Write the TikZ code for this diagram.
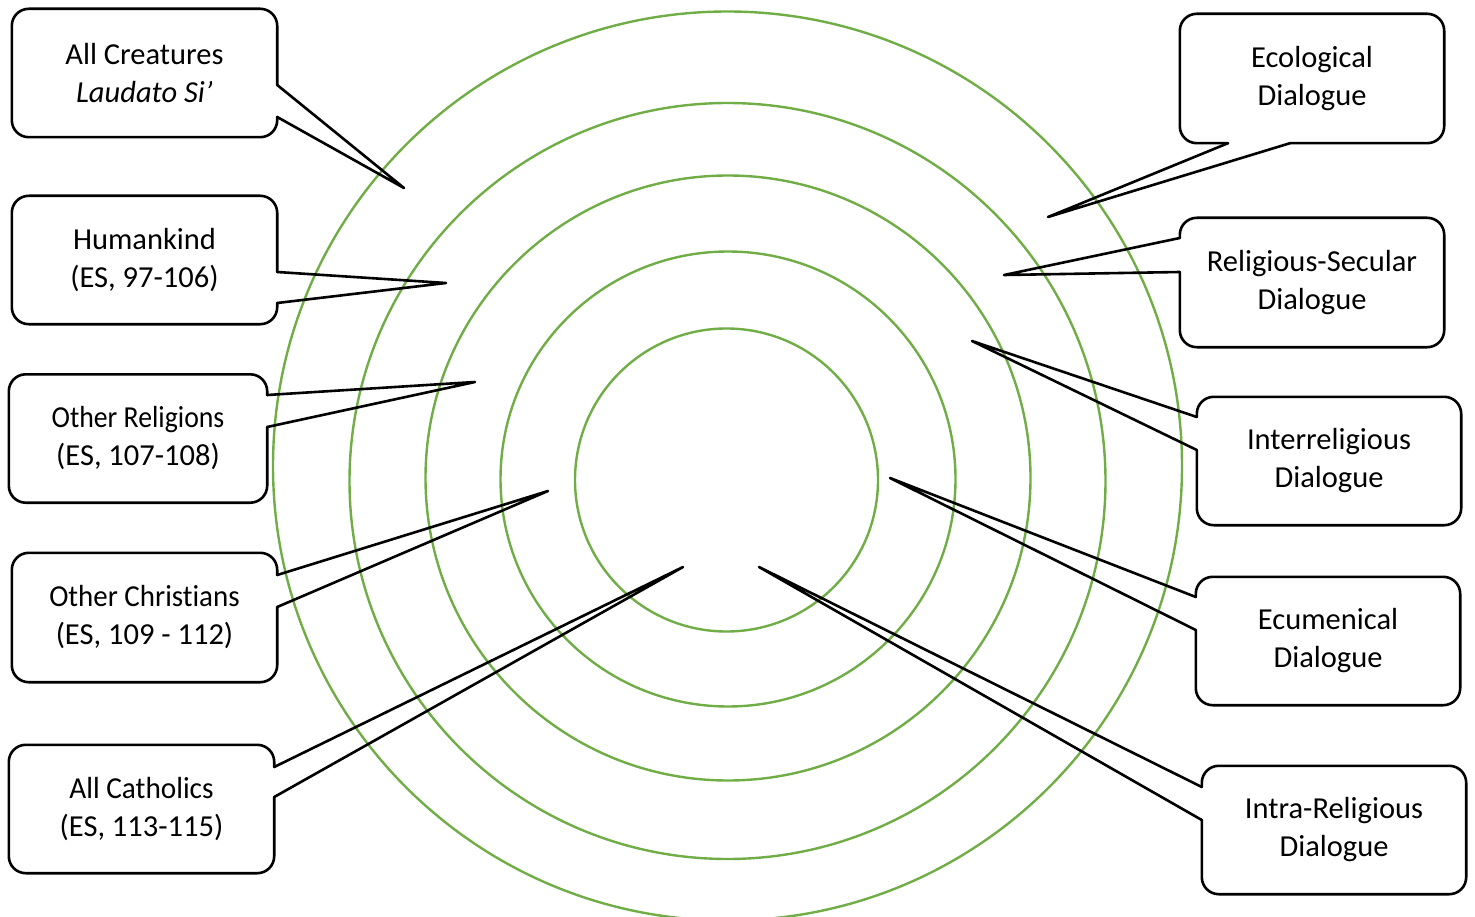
\documentclass[tikz,border=0pt]{standalone}
\usepackage{fontspec}
\usepackage{graphicx}
\setmainfont[Ligatures=NoCommon]{Carlito}
\definecolor{ringgreen}{HTML}{70AD47}
\tikzset{
  ring/.style={draw=ringgreen, line width=2.4pt},
  boxline/.style={draw=black, line width=2.6pt, line cap=round, line join=round},
  lbl/.style={minimum width=265pt, minimum height=128pt, inner sep=0pt, align=center,
              font=\fontsize{30.5}{38}\selectfont},
}
% callout outlines: pointer on east, west or south side
\newcommand{\calloutE}[4]{%
  \draw[boxline, rounded corners=17pt] (#1.east |- 0,#3) -- (#1.south east) -- (#1.south west)
     -- (#1.north west) -- (#1.north east) -- (#1.east |- 0,#2);
  \draw[boxline] (#1.east |- 0,#2) -- (#4) -- (#1.east |- 0,#3);}
\newcommand{\calloutW}[4]{%
  \draw[boxline, rounded corners=17pt] (#1.west |- 0,#2) -- (#1.north west) -- (#1.north east)
     -- (#1.south east) -- (#1.south west) -- (#1.west |- 0,#3);
  \draw[boxline] (#1.west |- 0,#2) -- (#4) -- (#1.west |- 0,#3);}
\newcommand{\calloutS}[4]{%
  \draw[boxline, rounded corners=17pt] (#3,0 |- #1.south) -- (#1.south east) -- (#1.north east)
     -- (#1.north west) -- (#1.south west) -- (#2,0 |- #1.south);
  \draw[boxline] (#2,0 |- #1.south) -- (#4) -- (#3,0 |- #1.south);}
\begin{document}
\begin{tikzpicture}[x=1pt, y=-1pt]
\useasboundingbox (0,0) rectangle (1475,917);
\clip (0,0) rectangle (1475,917);
% concentric rings
\draw[ring] (726.5,480) circle[radius=151.5pt];
\draw[ring] (728,479) circle[radius=227.5pt];
\draw[ring] (728,478) circle[radius=302.5pt];
\draw[ring] (727.5,481) circle[radius=378pt];
\draw[ring] (727.5,466) circle[radius=454.5pt];
% pointer tips
\coordinate (tL1) at (404,188);
\coordinate (tL2) at (446,283);
\coordinate (tL3) at (475,382);
\coordinate (tL4) at (548,491);
\coordinate (tL5) at (683,567);
\coordinate (tR1) at (1048,217);
\coordinate (tR2) at (1004,275);
\coordinate (tR3) at (972,341);
\coordinate (tR4) at (890,478);
\coordinate (tR5) at (759,567);
% left labels
\node[lbl] (L1) at (144.5,73) {All Creatures\\\textit{Laudato Si’}};
\node[lbl] (L2) at (144.5,260) {Humankind\\(ES, 97-106)};
\node[lbl, minimum width=258pt] (L3) at (138,438.5) {\scalebox{0.91}[1]{Other Religions}\\(ES, 107-108)};
\node[lbl, minimum height=129pt] (L4) at (144.5,617.5) {\scalebox{0.95}[1]{Other Christians}\\(ES, 109 - 112)};
\node[lbl] (L5) at (141.5,809) {\scalebox{0.96}[1]{All Catholics}\\(ES, 113-115)};
% right labels
\node[lbl, minimum width=264pt, minimum height=129pt] (R1) at (1312,78.5) {Ecological\\Dialogue};
\node[lbl, minimum width=264pt, minimum height=129pt] (R2) at (1312,282.5) {Religious-Secular\\Dialogue};
\node[lbl, minimum width=264pt] (R3) at (1329,461) {Interreligious\\Dialogue};
\node[lbl, minimum width=264pt] (R4) at (1328,641) {Ecumenical\\Dialogue};
\node[lbl, minimum width=264pt] (R5) at (1334,830) {Intra-Religious\\Dialogue};
% callout outlines
\calloutE{L1}{85}{117}{tL1}
\calloutE{L2}{272}{303}{tL2}
\calloutE{L3}{395}{427}{tL3}
\calloutE{L4}{575}{607}{tL4}
\calloutE{L5}{767}{797}{tL5}
\calloutS{R1}{1228}{1290}{tR1}
\calloutW{R2}{238}{272}{tR2}
\calloutW{R3}{417}{450}{tR3}
\calloutW{R4}{597}{630}{tR4}
\calloutW{R5}{787}{820}{tR5}
\end{tikzpicture}
\end{document}
